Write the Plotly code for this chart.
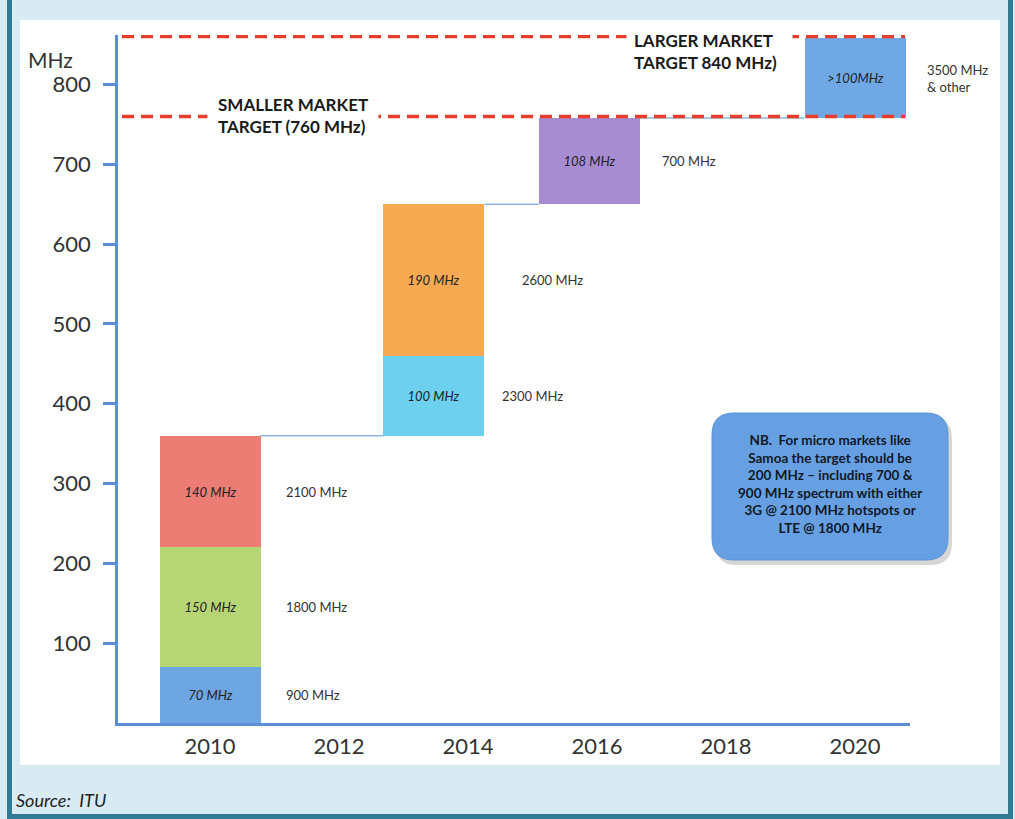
import numpy as np
import plotly.graph_objects as go

# ---------------- data ----------------
year_ticks = [2010, 2012, 2014, 2016, 2018, 2020]
bar_x = [2010, 2010, 2010, 2013.47, 2013.47, 2015.88, 2020]
seg_values = [70, 150, 140, 100, 190, 108, 100]
seg_labels = ["70 MHz", "150 MHz", "140 MHz", "100 MHz", "190 MHz", "108 MHz", ">100MHz"]
band_labels = ["900 MHz", "1800 MHz", "2100 MHz", "2300 MHz", "2600 MHz", "700 MHz", "3500 MHz<br>& other"]
y_ticks = [100, 200, 300, 400, 500, 600, 700, 800]
target_levels = [760, 860]
target_labels = ["SMALLER MARKET<br>TARGET (760 MHz)", "LARGER MARKET<br>TARGET 840 MHz)"]
note_lines = ["NB.  For micro markets like", "Samoa the target should be",
              "200 MHz \u2013 including 700 &", "900 MHz spectrum with either",
              "3G @ 2100 MHz hotspots or", "LTE @ 1800 MHz"]
source_text = "Source:  ITU"

# ---------------- styles ----------------
seg_colors = ["#6ea5e3", "#b6d676", "#eb7d75", "#6dd0ee", "#f8aa52", "#a88cd1", "#70a8e6"]
side_xshift = [23, 23, 23, 16, 36, 20, 19]
bar_width = 1.566
FONT = "Lato"
AXIS_BLUE = "#5b8ed6"
RED = "#e63e2b"
TEAL = "#2f7b95"
LIGHT = "#d8ebf2"

W, H = 1015, 819
PL, PR, PT, PB = 118, 910, 35, 723


def px(xp):
    return (xp - PL) / (PR - PL)


def py(yp):
    return (PB - yp) / (PB - PT)


values = np.array(seg_values, dtype=float)
bases = np.cumsum(values) - values
tops = bases + values

fig = go.Figure()

fig.add_trace(go.Bar(
    x=bar_x, y=seg_values, base=bases, width=bar_width,
    marker=dict(color=seg_colors, line=dict(width=0)),
    text=[f"<i>{t}</i>" for t in seg_labels],
    textposition="inside", insidetextanchor="middle", textangle=0,
    insidetextfont=dict(family=FONT, size=13, color="#222222"),
    constraintext="none",
    hoverinfo="skip", showlegend=False,
))

# connectors between successive bar groups
groups = []
for xv, tp in zip(bar_x, tops):
    if groups and groups[-1][0] == xv:
        groups[-1][1] = max(groups[-1][1], tp)
    else:
        groups.append([xv, tp])
for (x0, t0), (x1, _) in zip(groups[:-1], groups[1:]):
    fig.add_trace(go.Scatter(
        x=[x0 + bar_width / 2, x1 - bar_width / 2], y=[t0, t0], mode="lines",
        line=dict(color="#8fb6e0", width=1.5), hoverinfo="skip", showlegend=False,
    ))

shapes = []
# background panel + border
shapes.append(dict(type="rect", xref="paper", yref="paper", layer="below",
                   x0=px(20), x1=px(1000), y0=py(765), y1=py(20),
                   fillcolor="white", line=dict(width=0)))
shapes.append(dict(type="line", xref="paper", yref="paper", layer="below",
                   x0=px(9.5), x1=px(9.5), y0=py(0), y1=py(819), line=dict(color=TEAL, width=5)))
shapes.append(dict(type="line", xref="paper", yref="paper", layer="below",
                   x0=px(1010.5), x1=px(1010.5), y0=py(0), y1=py(819), line=dict(color=TEAL, width=5)))
shapes.append(dict(type="line", xref="paper", yref="paper", layer="below",
                   x0=px(7), x1=px(1013), y0=py(816.5), y1=py(816.5), line=dict(color=TEAL, width=5)))

# target dashed lines
for lv in target_levels:
    shapes.append(dict(type="line", xref="x domain", yref="y", layer="above",
                       x0=px(122), x1=px(905), y0=lv, y1=lv,
                       line=dict(color=RED, width=3.5, dash="12px,7px")))


# rounded note box
def rounded_path(x0, y0, x1, y1, r):
    rx = r / (PR - PL)
    ry = r / (PB - PT)
    X0, X1 = px(x0), px(x1)
    Yt, Yb = py(y0), py(y1)
    return (f"M {X0+rx},{Yt} L {X1-rx},{Yt} Q {X1},{Yt} {X1},{Yt-ry} "
            f"L {X1},{Yb+ry} Q {X1},{Yb} {X1-rx},{Yb} L {X0+rx},{Yb} "
            f"Q {X0},{Yb} {X0},{Yb+ry} L {X0},{Yt-ry} Q {X0},{Yt} {X0+rx},{Yt} Z")


shapes.append(dict(type="path", xref="paper", yref="paper", layer="above",
                   path=rounded_path(715, 417, 952, 565, 22),
                   fillcolor="rgba(0,0,0,0.16)", line=dict(width=0)))
shapes.append(dict(type="path", xref="paper", yref="paper", layer="above",
                   path=rounded_path(712, 413, 948, 560, 22),
                   fillcolor="#67a0e2", line=dict(color="#5a93d8", width=1)))

annotations = []
# side band labels
for xv, b, v, lab, xs in zip(bar_x, bases, seg_values, band_labels, side_xshift):
    annotations.append(dict(x=xv + bar_width / 2, y=b + v / 2, xref="x", yref="y",
                            text=lab, showarrow=False, xanchor="left", yanchor="middle",
                            align="left", xshift=xs,
                            font=dict(family=FONT, size=13, color="#333333")))

# target labels (white background hides the dashes)
annotations.append(dict(x=px(207), y=target_levels[0], xref="paper", yref="y",
                        text=f"<b>{target_labels[0]}</b>", showarrow=False,
                        xanchor="left", yanchor="middle", align="left", yshift=1,
                        bgcolor="white", borderpad=10,
                        font=dict(family=FONT, size=17, color="#1a1a1a")))
annotations.append(dict(x=px(626), y=target_levels[1], xref="paper", yref="y",
                        text=f"<b>{target_labels[1]}</b>&nbsp;&nbsp;", showarrow=False,
                        xanchor="left", yanchor="middle", align="left", yshift=-15,
                        bgcolor="white", borderpad=7,
                        font=dict(family=FONT, size=17, color="#1a1a1a")))

# axis unit label
annotations.append(dict(x=px(50), y=py(60), xref="paper", yref="paper", text="MHz",
                        showarrow=False, xanchor="center", yanchor="middle",
                        font=dict(family=FONT, size=21, color="#333333")))

# note text
annotations.append(dict(x=px(830), y=py(484), xref="paper", yref="paper",
                        text="<b>" + "<br>".join(note_lines) + "</b>", showarrow=False,
                        xanchor="center", yanchor="middle", align="center",
                        font=dict(family=FONT, size=13.5, color="#111827")))

# source
annotations.append(dict(x=px(14), y=py(800), xref="paper", yref="paper",
                        text=f"<i>{source_text}</i>", showarrow=False,
                        xanchor="left", yanchor="middle",
                        font=dict(family=FONT, size=18, color="#222222")))

x_lo = 2010 - (210 - PL) / 64.5
x_hi = 2020 + (PR - 855) / 64.5

fig.update_layout(
    width=W, height=H, autosize=False,
    margin=dict(l=PL, r=W - PR, t=PT, b=H - PB, pad=0),
    paper_bgcolor=LIGHT, plot_bgcolor="white",
    barmode="overlay", bargap=0,
    shapes=shapes, annotations=annotations,
    font=dict(family=FONT),
    xaxis=dict(range=[x_lo, x_hi], tickvals=year_ticks, ticktext=[str(y) for y in year_ticks],
               showgrid=False, zeroline=False, showline=True, linecolor=AXIS_BLUE, linewidth=2.5,
               ticks="outside", ticklen=2, tickcolor="rgba(0,0,0,0)",
               tickfont=dict(family=FONT, size=22, color="#333333"), fixedrange=True),
    yaxis=dict(range=[0, 862], tickvals=y_ticks, ticktext=[str(v) for v in y_ticks],
               showgrid=False, zeroline=False, showline=True, linecolor=AXIS_BLUE, linewidth=2.5,
               ticks="outside", ticklen=12, tickwidth=2.5, tickcolor=AXIS_BLUE,
               ticklabelstandoff=8,
               tickfont=dict(family=FONT, size=22, color="#333333"), fixedrange=True),
)

fig.write_html(
    "out.html",
    config={"displayModeBar": False},
    post_script="document.body.style.margin='0';document.body.style.overflow='hidden';",
)
